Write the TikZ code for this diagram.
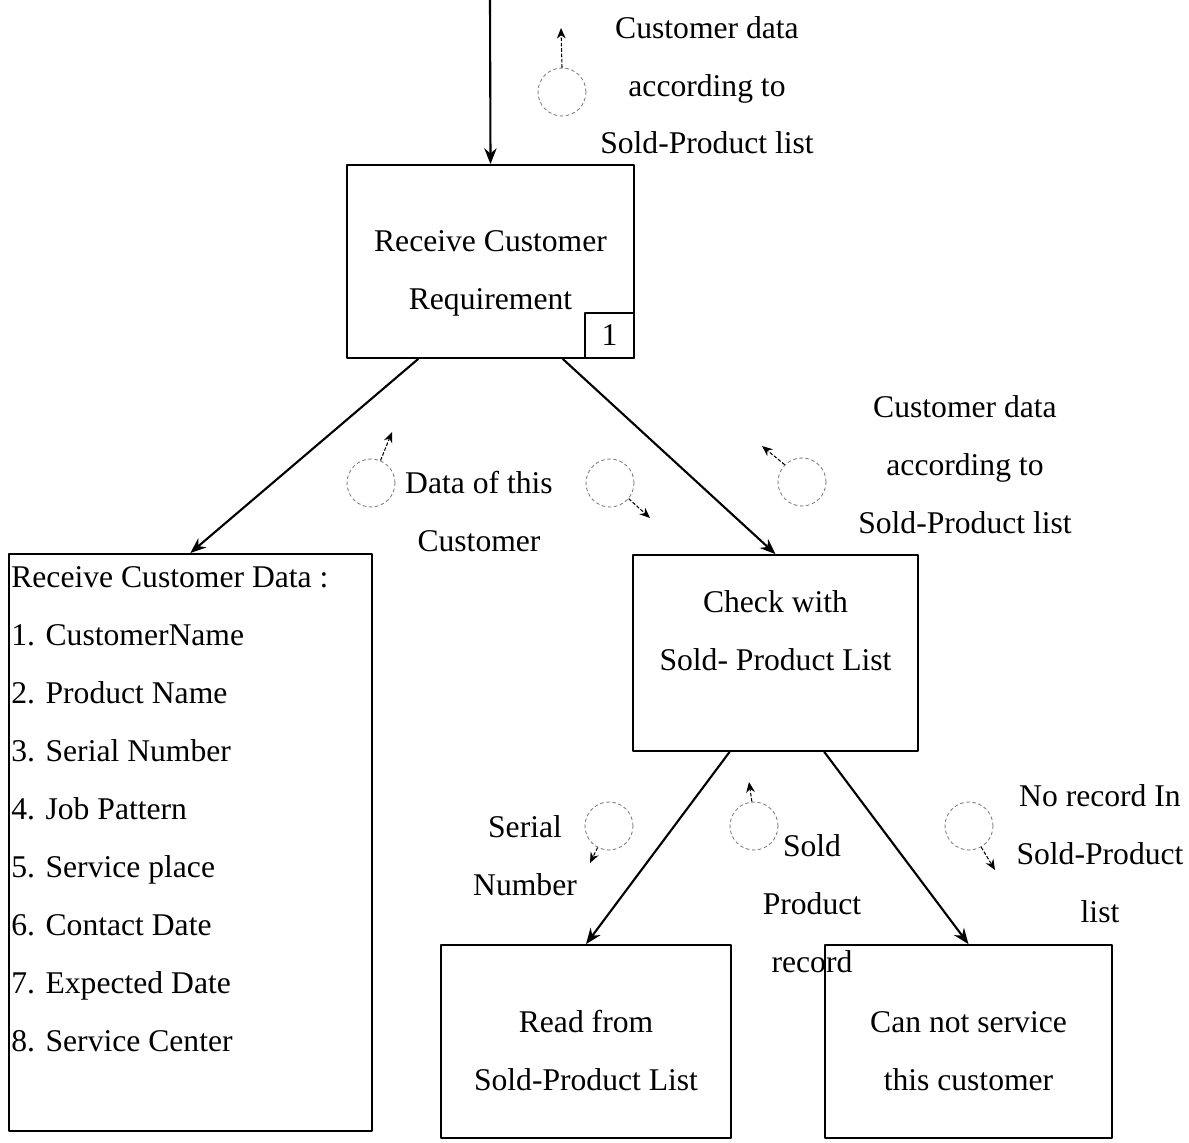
\documentclass[tikz,border=0pt]{standalone}
\usepackage{fontspec}
\setmainfont{Liberation Serif}
\usetikzlibrary{arrows.meta,calc,positioning}
\tikzset{
	procbox/.style={draw, line width=1pt, align=center, inner sep=0pt},
	twoline/.style={text height=55.5pt},
	mainarr/.style={->, line width=1.2pt},
	flowc/.style={draw=gray, dash pattern=on 2pt off 1.5pt, line width=.5pt, circle, minimum size=.96cm, inner sep=0pt},
	flowarr/.style={dash pattern=on 2pt off 1pt, line width=.6pt, -{Stealth[length=6pt,width=5pt]}},
	flowtxt/.style={align=center, anchor=base},
}
\begin{document}
\begin{tikzpicture}[x=0.02cm, y=-0.02cm, font=\fontsize{18}{33}\selectfont, line join=round, >={Stealth[length=9pt,width=7pt]}]
	\useasboundingbox (0,0) rectangle (1189,1142);
	% processes
	\node[procbox, twoline, text height=59pt, minimum width=5.74cm, minimum height=3.86cm] (req) at (490.5,261.5) {Receive Customer\\Requirement};
	\node[procbox, anchor=south east, minimum width=.98cm, minimum height=.9cm] (reqno) at (req.south east) {1};
	\node[procbox, anchor=north west, minimum width=7.26cm, minimum height=11.54cm] (cdata) at (8,553) {};
	\node[anchor=north west, align=left, inner xsep=.06cm, inner ysep=.26cm] (cdlist) at (cdata.north west) {Receive Customer Data :\\1. CustomerName\\2. Product Name\\3. Serial Number\\4. Job Pattern\\5. Service place\\6. Contact Date\\7. Expected Date\\8. Service Center};
	\node[procbox, twoline, minimum width=5.7cm, minimum height=3.92cm, text depth=36pt] (check) at (775.5,653) {Check with\\Sold- Product List};
	\node[procbox, twoline, minimum width=5.8cm, minimum height=3.86cm] (readsp) at (586,1041.5) {Read from\\Sold-Product List};
	\node[procbox, twoline, minimum width=5.74cm, minimum height=3.86cm] (nosrv) at (968.5,1041.5) {Can not service\\this customer};
	% control flow
	\coordinate (src) at (490,0);
	\draw[mainarr] (src) -- (req.north);
	\draw[mainarr] ($(req.south west)!.25!(req.south east)$) -- (cdata.north);
	\draw[mainarr] ($(req.south west)!.75!(req.south east)$) -- (check.north);
	\draw[mainarr] ($(check.south west)!.34!(check.south east)$) -- (readsp.north);
	\draw[mainarr] ($(check.south west)!.67!(check.south east)$) -- (nosrv.north);
	% data couples
	\foreach \n/\x/\y/\a/\ex/\ey in {cu/562/92/90/561/28, dc/371/483/67/392/432, dd/610/483/-40/650/518, cs/802/482/135/762/446, sn/609/826/-118/590/863, sp/754/826/95/749/782, nr/969/826/-60/995/870}{
		\node[flowc] (c\n) at (\x,\y) {};
		\coordinate (e\n) at (\ex,\ey);
		\draw[flowarr] (c\n.\a) -- (e\n);
	}
	\node[flowtxt] (tcu) at (707,154) {Customer data\\according to\\Sold-Product list};
	\node[flowtxt] (tdc) at (479,551) {Data of this\\Customer};
	\node[flowtxt] (tcs) at (965,533) {Customer data\\according to\\Sold-Product list};
	\node[flowtxt] (tsn) at (525,895) {Serial\\Number};
	\node[flowtxt] (tsp) at (812,972) {Sold\\Product\\record};
	\node[flowtxt] (tnr) at (1100,922) {No record In\\Sold-Product\\list};
\end{tikzpicture}
\end{document}
